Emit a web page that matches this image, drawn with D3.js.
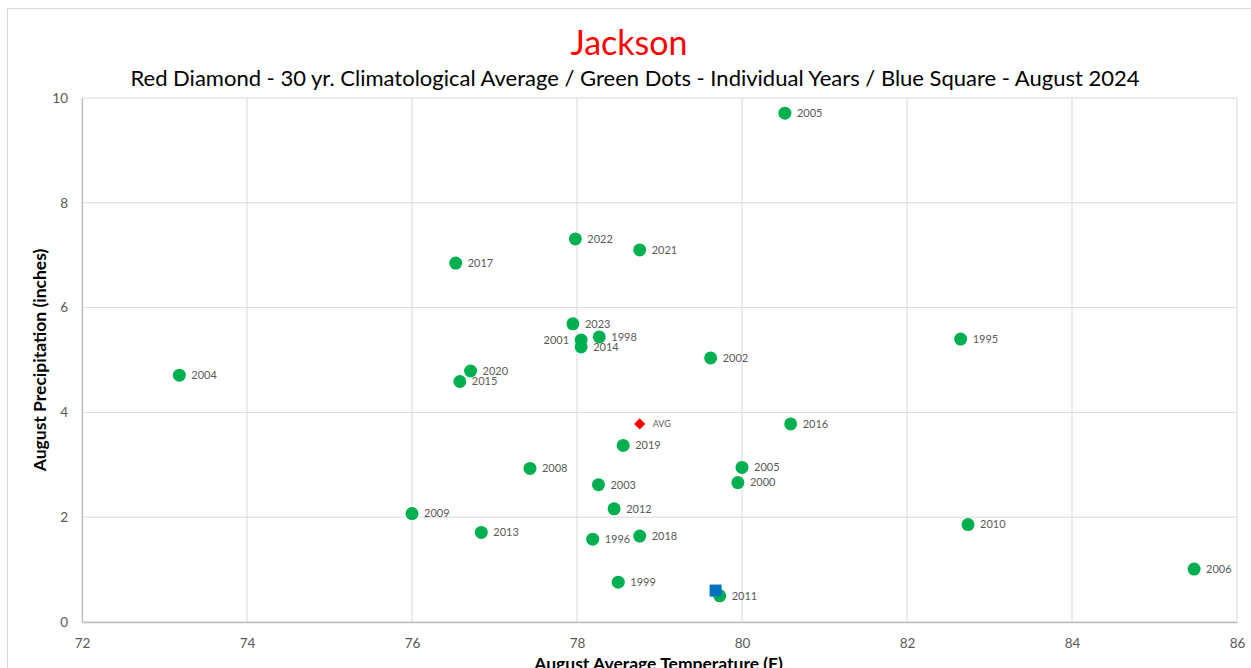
<!DOCTYPE html>
<html>
<head>
<meta charset="utf-8">
<script src="https://cdn.jsdelivr.net/npm/d3@7"></script>
<style>
  body { margin: 0; background: #fff; }
  svg { display: block; font-family: Lato, "Open Sans", sans-serif; }
</style>
</head>
<body>
<div id="chart"></div>
<script>
// individual years (green dots)
var years = ["2005", "2022", "2021", "2017", "2023", "1998", "2001", "2014", "2002", "1995",
             "2020", "2015", "2004", "2016", "2019", "2008", "2005", "2003", "2000", "2012",
             "2009", "2013", "1996", "2018", "2010", "2006", "1999", "2011"];
var temps = [80.52, 77.98, 78.76, 76.53, 77.95, 78.27, 78.05, 78.05, 79.62, 82.65,
             76.71, 76.58, 73.18, 80.59, 78.56, 77.43, 80.00, 78.26, 79.95, 78.45,
             76.00, 76.84, 78.19, 78.76, 82.74, 85.48, 78.50, 79.73];
var precips = [9.71, 7.31, 7.10, 6.85, 5.69, 5.44, 5.38, 5.25, 5.04, 5.40,
               4.79, 4.59, 4.71, 3.78, 3.37, 2.93, 2.95, 2.62, 2.66, 2.16,
               2.07, 1.71, 1.58, 1.64, 1.86, 1.01, 0.76, 0.50];

// 30 yr average (red diamond) and August 2024 (blue square)
var avgTemp = 78.76, avgPrecip = 3.78;
var curTemp = 79.68, curPrecip = 0.60;

var xTicks = [72, 74, 76, 78, 80, 82, 84, 86];
var yTicks = [0, 2, 4, 6, 8, 10];

var width = 1251, height = 668;
var margin = { top: 98, right: 14, bottom: 46, left: 82 };
var chart_width = width - margin.left - margin.right;
var chart_height = height - margin.top - margin.bottom;

var svg = d3.select('#chart')
    .append('svg')
    .attr('width', width)
    .attr('height', height);

// outer chart frame
svg.append('rect')
    .attr('x', 7.5).attr('y', 8.5)
    .attr('width', 1250).attr('height', 680)
    .attr('fill', 'none')
    .attr('stroke', '#d9d9d9');

svg.append('text')
    .attr('x', 629).attr('y', 55)
    .attr('text-anchor', 'middle')
    .attr('fill', '#ff0000')
    .style('font-size', '34px')
    .text('Jackson');

svg.append('text')
    .attr('x', 635).attr('y', 86)
    .attr('text-anchor', 'middle')
    .attr('fill', '#000')
    .style('font-size', '22px')
    .text('Red Diamond - 30 yr. Climatological Average / Green Dots - Individual Years / Blue Square - August 2024');

var g = svg.append('g')
    .attr('transform', 'translate(' + margin.left + ',' + margin.top + ')');

var x = d3.scaleLinear().domain([72, 86]).range([0, chart_width]);
var y = d3.scaleLinear().domain([0, 10]).range([chart_height, 0]);

// gridlines
g.append('g')
    .selectAll('line')
    .data(xTicks)
    .enter()
    .append('line')
    .attr('x1', function (d) { return x(d); })
    .attr('x2', function (d) { return x(d); })
    .attr('y1', 0).attr('y2', chart_height)
    .attr('stroke', '#d9d9d9');

g.append('g')
    .selectAll('line')
    .data(yTicks)
    .enter()
    .append('line')
    .attr('x1', 0).attr('x2', chart_width)
    .attr('y1', function (d) { return y(d); })
    .attr('y2', function (d) { return y(d); })
    .attr('stroke', '#d9d9d9');

// axes
var xAxis = g.append('g')
    .attr('transform', 'translate(0,' + chart_height + ')')
    .call(d3.axisBottom(x).tickValues(xTicks).tickSize(0).tickPadding(16));
var yAxis = g.append('g')
    .call(d3.axisLeft(y).tickValues(yTicks).tickSize(0).tickPadding(14));

[xAxis, yAxis].forEach(function (a) {
    a.select('.domain').attr('stroke', '#bfbfbf').attr('stroke-width', 1.3);
    a.selectAll('text')
        .attr('fill', '#595959')
        .style('font-size', '13.5px')
        .style('font-family', 'Lato, "Open Sans", sans-serif');
});

svg.append('text')
    .attr('transform', 'translate(46,' + (margin.top + chart_height / 2) + ') rotate(-90)')
    .attr('text-anchor', 'middle')
    .style('font-size', '17.5px')
    .style('font-weight', 'bold')
    .text('August Precipitation (inches)');

svg.append('text')
    .attr('x', margin.left + chart_width / 2 - 1)
    .attr('y', 670)
    .attr('text-anchor', 'middle')
    .style('font-size', '17.5px')
    .style('font-weight', 'bold')
    .text('August Average Temperature (F)');

// green dots
var data = years.map(function (yr, i) {
    return { year: yr, t: temps[i], p: precips[i] };
});

g.selectAll('circle.yr')
    .data(data)
    .enter()
    .append('circle')
    .attr('class', 'yr')
    .attr('cx', function (d) { return x(d.t); })
    .attr('cy', function (d) { return y(d.p); })
    .attr('r', 6.5)
    .attr('fill', '#00b050');

var leftLabels = ['2001'];
g.selectAll('text.lbl')
    .data(data)
    .enter()
    .append('text')
    .attr('class', 'lbl')
    .attr('x', function (d) {
        return leftLabels.indexOf(d.year) >= 0 ? x(d.t) - 12 : x(d.t) + 12;
    })
    .attr('y', function (d) { return y(d.p); })
    .attr('dy', '0.35em')
    .attr('text-anchor', function (d) {
        return leftLabels.indexOf(d.year) >= 0 ? 'end' : 'start';
    })
    .attr('fill', '#595959')
    .style('font-size', '11px')
    .text(function (d) { return d.year; });

// average diamond
g.append('path')
    .attr('d', d3.symbol().type(d3.symbolDiamond2).size(80)())
    .attr('transform', 'translate(' + x(avgTemp) + ',' + y(avgPrecip) + ')')
    .attr('fill', '#ff0000');
g.append('text')
    .attr('x', x(avgTemp) + 13)
    .attr('y', y(avgPrecip))
    .attr('dy', '0.35em')
    .attr('fill', '#595959')
    .style('font-size', '9px')
    .text('AVG');

// August 2024 square
g.append('rect')
    .attr('x', x(curTemp) - 6)
    .attr('y', y(curPrecip) - 6)
    .attr('width', 12).attr('height', 12)
    .attr('fill', '#0070c0');
</script>
</body>
</html>
